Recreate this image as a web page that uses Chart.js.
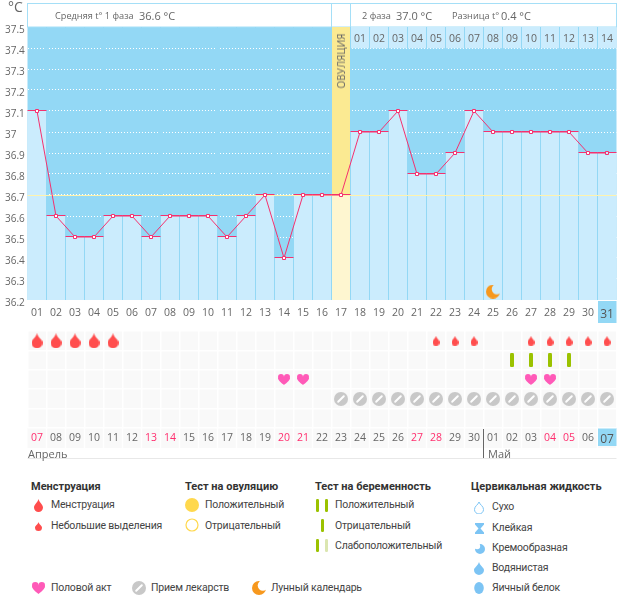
<!DOCTYPE html>
<html>
<head>
<meta charset="utf-8">
<script src="https://cdn.jsdelivr.net/npm/chart.js@4/dist/chart.umd.min.js"></script>
<style>
  html, body { margin: 0; padding: 0; background: #fff; }
  #page { position: relative; width: 626px; height: 595px; overflow: hidden; font-family: Roboto, sans-serif; }
  canvas { position: absolute; left: 0; }
  .lbl { position: absolute; white-space: nowrap; transform: translateY(-50%); color: #444; line-height: 1; }
</style>
</head>
<body>
<div id="page">
  <canvas id="tempChart" width="626" height="323" style="top:0"></canvas>
  <canvas id="marksChart" width="626" height="140" style="top:323px"></canvas>
</div>
<script>
// Данные графика
const days = ['01','02','03','04','05','06','07','08','09','10','11','12','13','14','15','16','17','18','19','20','21','22','23','24','25','26','27','28','29','30','31'];
const dates = ['07','08','09','10','11','12','13','14','15','16','17','18','19','20','21','22','23','24','25','26','27','28','29','30','01','02','03','04','05','06','07'];
const redDates = [0, 6, 7, 13, 14, 20, 21, 27, 28]; // выходные (индекс даты)
const temps = [37.1,36.6,36.5,36.5,36.6,36.6,36.5,36.6,36.6,36.6,36.5,36.6,36.7,36.4,36.7,36.7,36.7,37.0,37.0,37.1,36.8,36.8,36.9,37.1,37.0,37.0,37.0,37.0,37.0,36.9,36.9];
const phase2Days = ['01','02','03','04','05','06','07','08','09','10','11','12','13','14'];
const ovulationDay = '17';
const coverline = 36.7;
const moonDays = ['25'];
const heavyDays = ['01','02','03','04','05'];
const lightDays = ['22','23','24','27','28','29','30','31'];
const testDays = ['26','27','28','29'];
const heartDays = ['14','15','27','28'];
const pillDays = ['17','18','19','20','21','22','23','24','25','26','27','28','29','30','31'];

const BG_BLUE = '#93d8f5';
const BAR_BLUE = '#cbecfd';
const PINK = '#f5316f';
const TEXT = '#666';
const FONT = '"Open Sans", sans-serif';

// Иконки рисуем на маленьких canvas
function icon(w, h, draw) {
  const c = document.createElement('canvas');
  c.width = w; c.height = h;
  draw(c.getContext('2d'), w, h);
  return c;
}
const dropIcon = (w, h, color) => icon(w, h, (g) => {
  g.fillStyle = color;
  g.beginPath();
  g.moveTo(w / 2, 0);
  g.bezierCurveTo(w * 0.6, h * 0.3, w, h * 0.42, w, h - w / 2);
  g.arc(w / 2, h - w / 2, w / 2, 0, Math.PI);
  g.bezierCurveTo(0, h * 0.42, w * 0.4, h * 0.3, w / 2, 0);
  g.fill();
});
const heartIcon = (w, h) => icon(w, h, (g) => {
  const r = w / 4;
  g.fillStyle = '#ff5ab8';
  g.beginPath();
  g.arc(r, r, r, 0, Math.PI * 2);
  g.arc(w - r, r, r, 0, Math.PI * 2);
  g.fill();
  g.beginPath();
  g.moveTo(0, r + 1);
  g.bezierCurveTo(0.5, h * 0.65, w * 0.35, h * 0.85, w / 2, h);
  g.bezierCurveTo(w * 0.65, h * 0.85, w - 0.5, h * 0.65, w, r + 1);
  g.lineTo(w / 2, r);
  g.fill();
});
const pillIcon = (d) => icon(d, d, (g) => {
  g.fillStyle = '#c8c8c8';
  g.beginPath();
  g.arc(d / 2, d / 2, d / 2, 0, Math.PI * 2);
  g.fill();
  g.strokeStyle = '#fff';
  g.lineWidth = 2;
  g.lineCap = 'round';
  g.beginPath();
  g.moveTo(d * 0.3, d * 0.7);
  g.lineTo(d * 0.7, d * 0.3);
  g.stroke();
});
const moonIcon = (d) => icon(d, d, (g) => {
  g.fillStyle = '#f7981d';
  g.beginPath();
  g.arc(d / 2, d / 2, d / 2, 0, Math.PI * 2);
  g.fill();
  g.globalCompositeOperation = 'destination-out';
  g.beginPath();
  g.arc(d * 0.78, d * 0.32, d * 0.37, 0, Math.PI * 2);
  g.fill();
});
const sunIcon = (d) => icon(d, d, (g) => {
  g.fillStyle = '#ffd84d';
  g.beginPath();
  g.arc(d / 2, d / 2, d / 2, 0, Math.PI * 2);
  g.fill();
});
const ringIcon = (d) => icon(d, d, (g) => {
  g.strokeStyle = '#ffd84d';
  g.lineWidth = 1.2;
  g.beginPath();
  g.arc(d / 2, d / 2, d / 2 - 1, 0, Math.PI * 2);
  g.stroke();
});
const barsIcon = (w, h, bw, colors) => icon(w, h, (g) => {
  colors.forEach((color, i) => {
    g.fillStyle = color;
    const x = colors.length === 1 ? (w - bw) / 2 : i * (w - bw);
    g.beginPath();
    g.roundRect(x, 0, bw, h, 1.2);
    g.fill();
  });
});
const FLUID = '#7cc4f4';
const dryIcon = () => icon(10, 13, (g) => {
  g.strokeStyle = FLUID;
  g.lineWidth = 1;
  g.beginPath();
  g.moveTo(5, 1);
  g.bezierCurveTo(6, 4, 9.5, 5, 9.5, 8.5);
  g.arc(5, 8.5, 4.5, 0, Math.PI);
  g.bezierCurveTo(0.5, 5, 4, 4, 5, 1);
  g.stroke();
});
const stickyIcon = () => icon(9, 11, (g) => {
  g.fillStyle = FLUID;
  g.beginPath();
  g.moveTo(0, 0); g.lineTo(9, 0); g.lineTo(9, 1.5); g.lineTo(5.5, 5.5); g.lineTo(9, 9.5);
  g.lineTo(9, 11); g.lineTo(0, 11); g.lineTo(0, 9.5); g.lineTo(3.5, 5.5); g.lineTo(0, 1.5);
  g.fill();
});
const creamyIcon = () => icon(11, 11, (g) => {
  g.fillStyle = FLUID;
  g.beginPath();
  g.arc(6, 6, 5, 0, Math.PI * 2);
  g.lineTo(0, 0);
  g.fill();
  g.globalCompositeOperation = 'destination-out';
  g.beginPath();
  g.arc(3, 3, 3.2, 0, Math.PI * 2);
  g.fill();
});
const eggIcon = () => icon(10, 12, (g) => {
  g.fillStyle = FLUID;
  g.beginPath();
  g.ellipse(5, 6, 4.8, 6, 0, 0, Math.PI * 2);
  g.fill();
});

// Плагин верхнего графика: фон, шапка, разделители, линия покрытия
const tempPlugin = {
  id: 'tempPlugin',
  beforeDraw(chart) {
    const { ctx, chartArea: a, scales: { x } } = chart;
    ctx.save();
    ctx.fillStyle = BG_BLUE;
    ctx.fillRect(a.left, a.top, a.right - a.left, a.bottom - a.top);
    // шапка
    ctx.strokeStyle = '#a5dff7';
    ctx.lineWidth = 1;
    ctx.strokeRect(a.left, 3.5, a.right - a.left, a.top - 3.5);
    const cx = x.getPixelForValue(days.indexOf(ovulationDay));
    ctx.beginPath();
    ctx.moveTo(cx - 9.5, 3.5); ctx.lineTo(cx - 9.5, a.top);
    ctx.moveTo(cx + 9.5, 3.5); ctx.lineTo(cx + 9.5, a.top);
    ctx.stroke();
    // текущий день
    const last = x.getPixelForValue(days.length - 1);
    ctx.fillStyle = BG_BLUE;
    ctx.fillRect(last - 9, a.bottom + 1, 18.5, 22);
    ctx.restore();
  },
  afterDatasetDraw(chart, args) {
    if (args.index !== 1) return;
    const { ctx, chartArea: a, scales: { x, y } } = chart;
    ctx.save();
    ctx.strokeStyle = BG_BLUE;
    ctx.lineWidth = 1;
    ctx.beginPath();
    days.forEach((d, i) => {
      if (i === 0) return;
      const px = Math.round(x.getPixelForValue(i) - 9.5 - 0.5) + 0.5;
      ctx.moveTo(px, a.top);
      ctx.lineTo(px, a.bottom);
    });
    ctx.stroke();
    const py = Math.round(y.getPixelForValue(coverline)) + 0.5;
    ctx.strokeStyle = '#fff3ad';
    ctx.beginPath();
    ctx.moveTo(a.left, py);
    ctx.lineTo(a.right, py);
    ctx.stroke();
    // розовая кромка по верху каждого столбца
    ctx.fillStyle = PINK;
    args.meta.data.forEach((b) => {
      ctx.fillRect(b.x - b.width / 2, Math.round(b.y) - 1, b.width, 1);
    });
    ctx.restore();
  },
  afterDraw(chart) {
    const { ctx, chartArea: a, scales: { x } } = chart;
    ctx.save();
    ctx.fillStyle = TEXT;
    ctx.font = '10.5px ' + FONT;
    ctx.textAlign = 'center';
    ctx.textBaseline = 'middle';
    phase2Days.forEach((d, i) => {
      ctx.fillText(d, x.getPixelForValue(days.indexOf(ovulationDay) + 1 + i), a.top + 12);
    });
    ctx.restore();
  }
};

const tempChart = new Chart(document.getElementById('tempChart'), {
  type: 'bar',
  data: {
    labels: days,
    datasets: [
      {
        type: 'line',
        data: temps,
        order: 0,
        borderColor: PINK,
        borderWidth: 1,
        tension: 0,
        pointStyle: 'rect',
        pointRadius: 2.13,
        pointBackgroundColor: (c) => (c.dataIndex === temps.length - 1 ? BAR_BLUE : '#fff'),
        pointBorderColor: PINK,
        pointBorderWidth: 1
      },
      {
        data: temps,
        order: 2,
        backgroundColor: (c) => (days[c.dataIndex] === ovulationDay ? '#fef6d0' : BAR_BLUE),
        inflateAmount: 0
      },
      {
        data: days.map((d) => (d === ovulationDay ? [coverline, 37.5] : null)),
        order: 3,
        backgroundColor: '#fbea92'
      },
      {
        data: days.map((d) => (Number(d) > Number(ovulationDay) ? [37.4, 37.5] : null)),
        order: 3,
        backgroundColor: BAR_BLUE
      },
      {
        type: 'line',
        data: moonDays.map((d) => ({ x: d, y: 36.24 })),
        order: 0,
        showLine: false,
        pointStyle: moonIcon(14),
        pointRadius: 7
      },
      {
        type: 'line',
        data: [{ x: ovulationDay, y: 37.557 }],
        order: 0,
        clip: false,
        showLine: false,
        pointStyle: sunIcon(14),
        pointRadius: 7
      }
    ]
  },
  options: {
    responsive: false,
    animation: false,
    events: [],
    layout: { padding: { top: 27, left: 5, right: 9.5, bottom: 0 } },
    datasets: { bar: { grouped: false, barPercentage: 1, categoryPercentage: 1 } },
    plugins: { legend: { display: false }, tooltip: { enabled: false } },
    scales: {
      x: {
        grid: { display: false, drawTicks: false },
        border: { display: false },
        afterFit: (s) => { s.height = 23; },
        ticks: {
          autoSkip: false,
          maxRotation: 0,
          padding: 7,
          color: (c) => (c.index === days.length - 1 ? '#555' : TEXT),
          font: (c) => ({ family: FONT, size: c.index === days.length - 1 ? 12 : 10.5 })
        }
      },
      y: {
        min: 36.2,
        max: 37.5,
        afterFit: (s) => { s.width = 22.5; },
        border: { display: false, dash: [1, 2] },
        grid: {
          drawTicks: false,
          color: (c) => (c.tick.value > 37.45 || c.tick.value < 36.25 ? 'transparent' : '#fff')
        },
        ticks: {
          stepSize: 0.1,
          crossAlign: 'far',
          padding: 0,
          labelOffset: 3,
          color: TEXT,
          font: { family: FONT, size: 10 },
          callback: (v) => parseFloat(Number(v).toFixed(1))
        }
      }
    }
  },
  plugins: [tempPlugin]
});

// Плагин нижнего графика: ячейки, подпись текущего дня, граница месяцев
const marksPlugin = {
  id: 'marksPlugin',
  beforeDraw(chart) {
    const { ctx, chartArea: a, scales: { x } } = chart;
    ctx.save();
    ctx.fillStyle = '#f9f9f9';
    ctx.fillRect(a.left, a.top, a.right - a.left, a.bottom + 20 - a.top);
    // строка дат: те же ячейки ниже области графика
    ctx.fillStyle = '#fff';
    dates.forEach((d, i) => {
      ctx.fillRect(x.getPixelForValue(i) + 8.75, a.bottom, 1.5, 21);
    });
    const last = x.getPixelForValue(dates.length - 1);
    ctx.fillStyle = BG_BLUE;
    ctx.fillRect(last - 9, a.bottom, 18.5, 18);
    ctx.restore();
  },
  afterDraw(chart) {
    const { ctx, chartArea: a, scales: { x } } = chart;
    ctx.save();
    const split = Math.round(x.getPixelForValue(dates.indexOf('01')) - 9.5) - 0.5;
    ctx.strokeStyle = '#666';
    ctx.lineWidth = 1;
    ctx.beginPath();
    ctx.moveTo(split, a.bottom + 1);
    ctx.lineTo(split, a.bottom + 30);
    ctx.stroke();
    ctx.strokeStyle = '#e8e8e8';
    ctx.beginPath();
    ctx.moveTo(a.left, a.bottom + 30.5);
    ctx.lineTo(a.right, a.bottom + 30.5);
    ctx.stroke();
    ctx.restore();
  }
};

const rowPoints = (list, row) => list.map((d) => ({ x: d, y: row }));
const markSet = (data, style, r) => ({ type: 'line', data, showLine: false, pointStyle: style, pointRadius: r });

const marksChart = new Chart(document.getElementById('marksChart'), {
  type: 'bar',
  data: {
    labels: days,
    datasets: [
      markSet(rowPoints(heavyDays, 0.5), dropIcon(11, 15, '#ff4d4d'), 7),
      markSet(rowPoints(lightDays, 0.5), dropIcon(7, 10, '#ff4d4d'), 5),
      markSet(rowPoints(testDays, 1.5), barsIcon(4, 14, 4, ['#9bc200']), 7),
      markSet(rowPoints(heartDays, 2.5), heartIcon(12, 11), 6),
      markSet(rowPoints(pillDays, 3.5), pillIcon(14), 7)
    ]
  },
  options: {
    responsive: false,
    animation: false,
    events: [],
    layout: { padding: { top: 0, left: 27.5, right: 9.5, bottom: 0 } },
    plugins: { legend: { display: false }, tooltip: { enabled: false } },
    scales: {
      x: {
        border: { display: false },
        grid: { color: '#fff', lineWidth: 1.5, drawTicks: false },
        afterFit: (s) => { s.height = 35; },
        ticks: {
          autoSkip: false,
          maxRotation: 0,
          padding: 4,
          callback: (v, i) => dates[i],
          color: (c) => (c.index === dates.length - 1 ? '#555' : redDates.includes(c.index) ? '#ff2e6e' : TEXT),
          font: (c) => ({ family: FONT, size: c.index === dates.length - 1 ? 12 : 10.5 })
        }
      },
      y: {
        min: 0,
        max: 5,
        reverse: true,
        afterFit: (s) => { s.width = 0; },
        border: { display: false },
        grid: { color: '#fff', lineWidth: 1.5, drawTicks: false },
        ticks: { stepSize: 1, display: false }
      }
    }
  },
  plugins: [marksPlugin]
});

// Подписи и легенда поверх графиков
const page = document.getElementById('page');
function label(x, y, text, size, opts) {
  const el = document.createElement('div');
  el.className = 'lbl';
  el.textContent = text;
  el.style.left = x + 'px';
  el.style.top = y + 'px';
  el.style.fontSize = size + 'px';
  if (opts && opts.color) el.style.color = opts.color;
  if (opts && opts.bold) el.style.fontWeight = '700';
  if (opts && opts.font) el.style.fontFamily = opts.font;
  page.appendChild(el);
  return el;
}
function item(x, y, text) {
  const el = label(x, y, text, 10.5);
  el.style.letterSpacing = '-0.2px';
}
function place(x, y, c) {
  c.style.left = (x - c.width / 2) + 'px';
  c.style.top = (y - c.height / 2) + 'px';
  page.appendChild(c);
}

label(8, 7, '°C', 14, { color: TEXT, font: FONT });
label(55, 15.5, 'Средняя t° 1 фаза', 9.2, { color: TEXT, font: FONT });
label(139, 15, '36.6 °C', 11, { color: TEXT, font: FONT });
label(362, 15.5, '2 фаза', 9.2, { color: TEXT, font: FONT });
label(396, 15, '37.0 °C', 11, { color: TEXT, font: FONT });
label(452, 15.5, 'Разница t°', 9.2, { color: TEXT, font: FONT });
label(501, 15, '0.4 °C', 11, { color: TEXT, font: FONT });
const ov = label(341, 61, 'ОВУЛЯЦИЯ', 10, { color: '#666', font: FONT });
ov.style.transform = 'translate(-50%,-50%) rotate(-90deg)';

label(28, 453, 'Апрель', 11, { color: TEXT, font: FONT });
label(488, 453, 'Май', 11, { color: TEXT, font: FONT });

const legendHeads = [['Менструация', 31], ['Тест на овуляцию', 185], ['Тест на беременность', 315], ['Цервикальная жидкость', 471]];
legendHeads.forEach(([t, x]) => label(x, 486, t, 11, { bold: true, color: '#333' }));

place(38, 505, dropIcon(9, 13, '#ff4d4d'));
item(51, 505, 'Менструация');
place(38, 526, dropIcon(7, 9, '#ff4d4d'));
item(51, 526, 'Небольшие выделения');

place(192, 505, sunIcon(14));
item(205, 505, 'Положительный');
place(192, 525, ringIcon(14));
item(205, 526, 'Отрицательный');

place(322, 505, barsIcon(12, 13, 3, ['#9bc200', '#9bc200']));
item(335, 505, 'Положительный');
place(322, 525, barsIcon(3, 13, 3, ['#9bc200']));
item(335, 526, 'Отрицательный');
place(322, 545, barsIcon(12, 13, 3, ['#9bc200', '#dbe6b0']));
item(335, 546, 'Слабоположительный');

place(479, 507, dryIcon());
item(492, 507, 'Сухо');
place(479, 528, stickyIcon());
item(492, 528, 'Клейкая');
place(479, 548, creamyIcon());
item(492, 548, 'Кремообразная');
place(479, 568, dropIcon(10, 13, FLUID));
item(492, 568, 'Водянистая');
place(479, 588, eggIcon());
item(492, 588, 'Яичный белок');

place(38, 588, heartIcon(13, 12));
item(51, 588, 'Половой акт');
place(139, 588, pillIcon(14));
item(151, 588, 'Прием лекарств');
place(259, 588, moonIcon(14));
item(271, 588, 'Лунный календарь');
</script>
</body>
</html>
